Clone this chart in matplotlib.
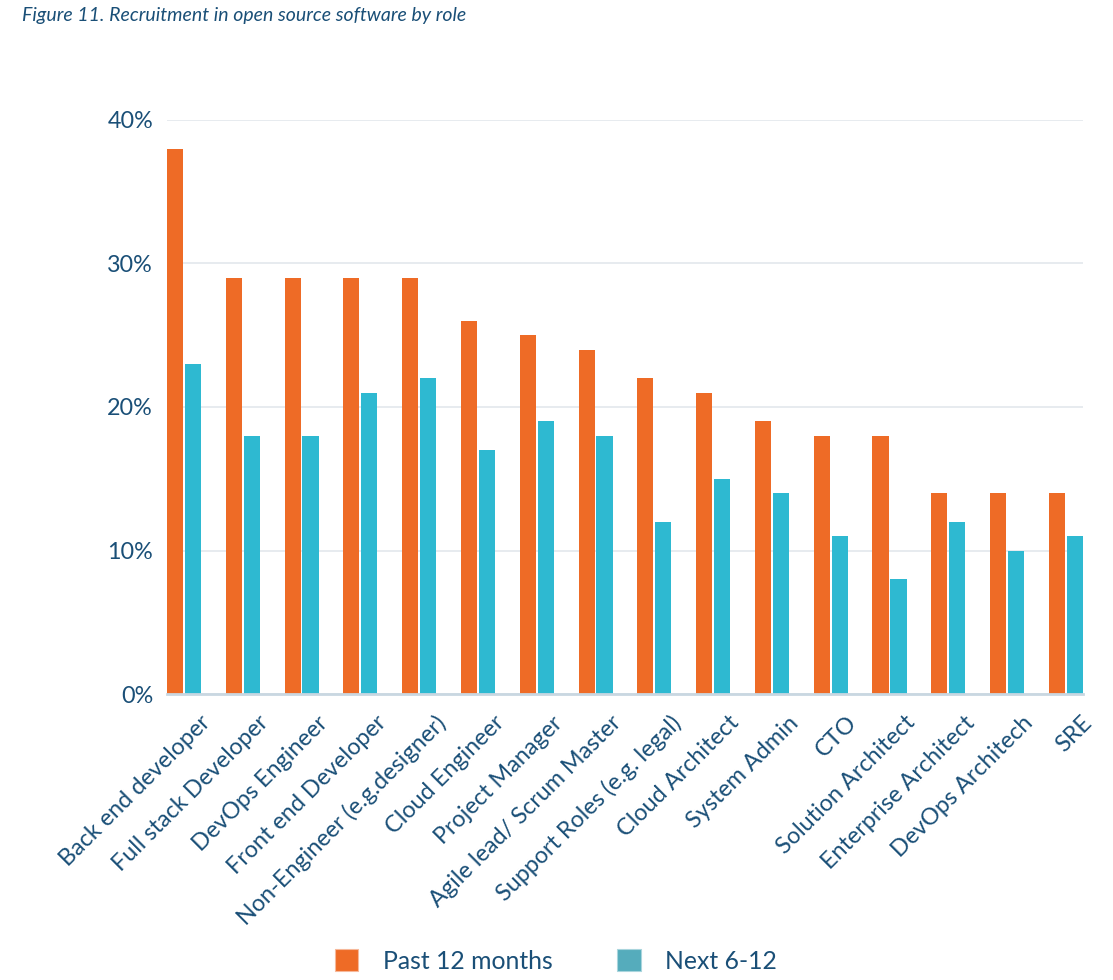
import numpy as np
import matplotlib
matplotlib.use("Agg")
import matplotlib.pyplot as plt
from matplotlib.patches import Patch

# data
roles = ["Back end developer", "Full stack Developer", "DevOps Engineer",
         "Front end Developer", "Non-Engineer (e.g.designer)", "Cloud Engineer",
         "Project Manager", "Agile lead/ Scrum Master", "Support Roles (e.g. legal)",
         "Cloud Architect", "System Admin", "CTO", "Solution Architect",
         "Enterprise Architect", "DevOps Architech", "SRE"]
past_12 = [38, 29, 29, 29, 29, 26, 25, 24, 22, 21, 19, 18, 18, 14, 14, 14]
next_6_12 = [23, 18, 18, 21, 22, 17, 19, 18, 12, 15, 14, 11, 8, 12, 10, 11]
y_ticks = [0, 10, 20, 30, 40]

orange = "#ee6b26"
cyan = "#2eb9d1"
cyan_legend = "#55acbc"
txt = "#1a4f77"

plt.rcParams['font.family'] = ['Lato', 'DejaVu Sans']

fig = plt.figure(figsize=(11.13, 9.8), dpi=100)
ax = fig.add_axes([0.150, 0.2918, 0.823, 0.5858])

x = np.arange(len(roles))
w = 0.275
ax.bar(x - 0.015 - w / 2, past_12, width=w, color=orange, zorder=3)
ax.bar(x + 0.015 + w / 2, next_6_12, width=w, color=cyan, zorder=3)

ax.set_xlim(-0.29, len(roles) - 1 + 0.29)
ax.set_ylim(0, 40)
ax.set_yticks(y_ticks)
ax.set_yticklabels([f"{v}%" for v in y_ticks])
ax.yaxis.grid(True, color="#e3e7ec", linewidth=1.2, zorder=0)
ax.tick_params(axis="y", length=0, pad=10, labelsize=16.8, labelcolor=txt)

ax.set_xticks(x + 0.26)
ax.set_xticklabels(roles, rotation=45, ha="right", va="top", rotation_mode="anchor")
ax.tick_params(axis="x", length=0, pad=13, labelsize=16.8, labelcolor=txt)

for s in ["top", "right", "left"]:
    ax.spines[s].set_visible(False)
ax.spines["bottom"].set_color("#c9d7e1")
ax.spines["bottom"].set_linewidth(2)
ax.spines["bottom"].set_zorder(4)

fig.text(0.02, 0.984, "Figure 11. Recruitment in open source software by role",
         style="italic", fontsize=14, color=txt, va="center", ha="left")

handles = [Patch(facecolor=orange, edgecolor="#f6b89a", linewidth=0.8),
           Patch(facecolor=cyan_legend, edgecolor="#a9d5dd", linewidth=0.8)]
fig.legend(handles, ["Past 12 months", "Next 6-12"], loc="center",
           bbox_to_anchor=(0.4996, 0.0194), ncol=2, frameon=False,
           fontsize=17.8, labelcolor=txt, handlelength=0.95, handleheight=0.95,
           handletextpad=1.0, columnspacing=2.6)

fig.savefig("out.png", dpi=100)
